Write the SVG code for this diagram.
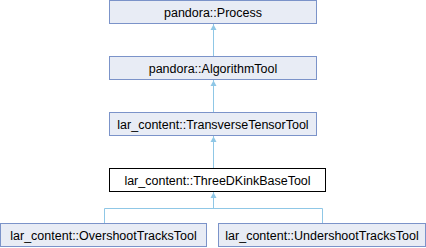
<svg xmlns="http://www.w3.org/2000/svg" width="426" height="248" viewBox="0 0 426 248">
  <style>
    .node rect { fill: #e8ecf5; stroke: #7b93c9; stroke-width: 1; }
    .node.current rect { fill: #ffffff; stroke: #000000; }
    .node text { font-family: "Liberation Sans", Arial, sans-serif; font-size: 12.5px; fill: #000000; text-anchor: middle; }
    .edge { fill: none; stroke: #8fc7e6; stroke-width: 1; }
    .head { fill: #8fc7e6; }
  </style>
  <rect width="426" height="248" fill="#ffffff"/>

  <!-- inheritance connectors -->
  <g id="edges">
    <path class="edge" d="M213.5,24 V56"/>
    <path class="edge" d="M213.5,80 V112"/>
    <path class="edge" d="M213.5,136 V168"/>
    <path class="edge" d="M213.5,192 V208.5 M104.5,223 V208.5 H322.5 V223"/>
    <path class="head" d="M210.5,30 L213.5,24.5 L216.5,30 Z"/>
    <path class="head" d="M210.5,86 L213.5,80.5 L216.5,86 Z"/>
    <path class="head" d="M210.5,142 L213.5,136.5 L216.5,142 Z"/>
    <path class="head" d="M210.5,198 L213.5,192.5 L216.5,198 Z"/>
  </g>

  <g id="node-process" class="node">
    <rect x="109.5" y="0.5" width="207" height="23"/>
    <text x="213" y="16.5">pandora::Process</text>
  </g>
  <g id="node-algorithmtool" class="node">
    <rect x="109.5" y="56.5" width="207" height="23"/>
    <text x="213" y="72.5">pandora::AlgorithmTool</text>
  </g>
  <g id="node-transversetensortool" class="node">
    <rect x="109.5" y="112.5" width="207" height="23"/>
    <text x="213" y="128.5">lar_content::TransverseTensorTool</text>
  </g>
  <g id="node-threedkinkbasetool" class="node current">
    <rect x="109.5" y="168.5" width="216" height="23"/>
    <text x="217.5" y="184.5">lar_content::ThreeDKinkBaseTool</text>
  </g>
  <g id="node-overshoottrackstool" class="node">
    <rect x="0.5" y="223.5" width="206" height="23"/>
    <text x="103.5" y="239.5">lar_content::OvershootTracksTool</text>
  </g>
  <g id="node-undershoottrackstool" class="node">
    <rect x="218.5" y="223.5" width="207" height="23"/>
    <text x="322" y="239.5">lar_content::UndershootTracksTool</text>
  </g>
</svg>
